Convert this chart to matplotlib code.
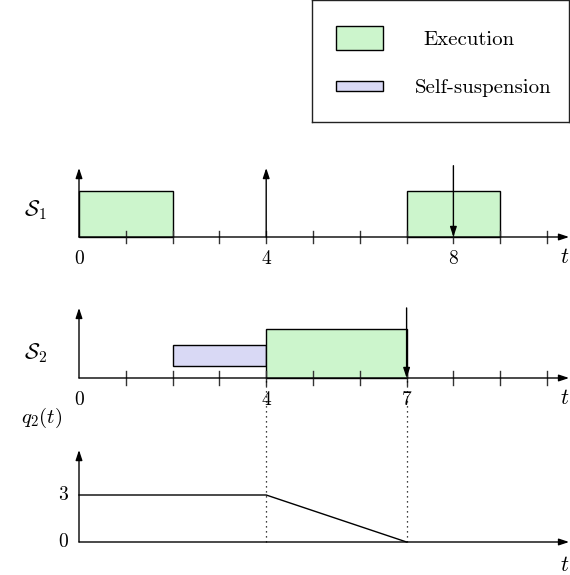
import matplotlib
matplotlib.use("Agg")
import matplotlib.pyplot as plt
from matplotlib.patches import Rectangle

plt.rcParams['font.family'] = 'serif'
plt.rcParams['font.serif'] = ['cmr10', 'DejaVu Serif']
plt.rcParams['mathtext.fontset'] = 'cm'
plt.rcParams['axes.unicode_minus'] = False

# ---- data ----
t_max = 10
s1_exec = [(0, 2), (7, 9)]
s1_release = [0, 4]
s1_deadline = [8]
s1_ticklabels = [0, 4, 8]

s2_exec = [(4, 7)]
s2_susp = [(2, 4)]
s2_release = [0]
s2_deadline = [7]
s2_ticklabels = [0, 4, 7]

q_t = [0, 4, 7]
q_val = [3, 3, 0]
q_ticks = [0, 3]

EXEC_COLOR = '#ccf5cc'
SUSP_COLOR = '#d9d9f5'
FS = 14

W, H = 570, 575
fig = plt.figure(figsize=(W / 100, H / 100), dpi=100)

# pixel geometry of the time axis
X0_PX = 79.0
UNIT_PX = 46.8


def row_axes(baseline_px, unit_px, top_px, bottom_px):
    """Full-width axes whose x is time and y is in row units (0 at baseline)."""
    left = -X0_PX / UNIT_PX
    right = (W - X0_PX) / UNIT_PX
    ax = fig.add_axes([0, 1 - bottom_px / H, 1, (bottom_px - top_px) / H])
    ax.set_xlim(left, right)
    ax.set_ylim(-(bottom_px - baseline_px) / unit_px, (baseline_px - top_px) / unit_px)
    ax.axis('off')
    return ax


ARROW = dict(arrowstyle='-|>,head_length=0.6,head_width=0.2',
             color='black', lw=1.0, shrinkA=0, shrinkB=0)


def time_axis(ax, ticks=True):
    xr = ax.get_xlim()[1]
    ax.annotate('', xy=(xr - 0.02, 0), xytext=(0, 0), arrowprops=ARROW)
    if ticks:
        for k in range(1, t_max + 1):
            ax.plot([k, k], [-0.14, 0.14], color='#333333', lw=1.0)


def up_arrow(ax, x, h):
    ax.annotate('', xy=(x, h), xytext=(x, 0), arrowprops=ARROW)


def down_arrow(ax, x, h):
    ax.annotate('', xy=(x, 0), xytext=(x, h), arrowprops=ARROW)


# ---- S1 row ----
ax1 = row_axes(237, 46, 150, 280)
for a, b in s1_exec:
    ax1.add_patch(Rectangle((a, 0), b - a, 1, facecolor=EXEC_COLOR,
                            edgecolor='black', lw=1.0, zorder=2))
time_axis(ax1)
for r in s1_release:
    up_arrow(ax1, r, 1.5)
for d in s1_deadline:
    down_arrow(ax1, d, 1.55)
for v in s1_ticklabels:
    ax1.text(v, -0.47, str(v), ha='center', va='center', fontsize=FS)
ax1.text(10.38, -0.45, '$t$', ha='center', va='center', fontsize=FS + 2)
ax1.text(-0.92, 0.58, r'$\mathcal{S}_1$', ha='center', va='center', fontsize=FS + 2)

# ---- S2 row ----
ax2 = row_axes(378, 49, 290, 420)
for a, b in s2_susp:
    ax2.add_patch(Rectangle((a, 0.25), b - a, 0.43, facecolor=SUSP_COLOR,
                            edgecolor='black', lw=1.0, zorder=2))
for a, b in s2_exec:
    ax2.add_patch(Rectangle((a, 0), b - a, 1, facecolor=EXEC_COLOR,
                            edgecolor='black', lw=1.0, zorder=2))
time_axis(ax2)
for r in s2_release:
    up_arrow(ax2, r, 1.43)
for d in s2_deadline:
    down_arrow(ax2, d, 1.43)
for v in s2_ticklabels:
    ax2.text(v, -0.44, str(v), ha='center', va='center', fontsize=FS)
ax2.text(10.38, -0.42, '$t$', ha='center', va='center', fontsize=FS + 2)
ax2.text(-0.92, 0.5, r'$\mathcal{S}_2$', ha='center', va='center', fontsize=FS + 2)

# ---- q2 row ----
q_unit = 47 / 3.0
ax3 = row_axes(542, q_unit, 380, 575)
time_axis(ax3, ticks=False)
up_arrow(ax3, 0, 92 / q_unit)
ax3.plot(q_t, q_val, color='black', lw=1.0)
top_dot = (542 - 378) / q_unit
for x in s2_deadline + [s2_exec[0][0]]:
    ax3.plot([x, x], [0, top_dot], color='black', lw=0.9, ls=(0, (1, 3)), clip_on=False)
for v in q_ticks:
    ax3.text(-0.33, v, str(v), ha='center', va='center', fontsize=FS)
ax3.text(10.38, -1.5, '$t$', ha='center', va='center', fontsize=FS + 2)
ax3.text(-0.8, 124 / q_unit, '$q_2(t)$', ha='center', va='center', fontsize=FS + 1)

# ---- legend box ----
lg = fig.add_axes([312 / W, 1 - 122 / H, (569 - 312) / W, 122 / H])
lg.set_xlim(312, 569)
lg.set_ylim(122, 0)
lg.set_xticks([])
lg.set_yticks([])
for s in lg.spines.values():
    s.set_linewidth(1.0)
    s.set_color('#222222')
lg.add_patch(Rectangle((336, 26), 47, 24, facecolor=EXEC_COLOR, edgecolor='black', lw=1.0))
lg.add_patch(Rectangle((336, 81), 47, 10, facecolor=SUSP_COLOR, edgecolor='black', lw=1.0))
lg.text(469, 40, 'Execution', ha='center', va='center', fontsize=FS + 1)
lg.text(483, 88, 'Self-suspension', ha='center', va='center', fontsize=FS + 1)

fig.savefig('out.png', dpi=100, facecolor='white')
